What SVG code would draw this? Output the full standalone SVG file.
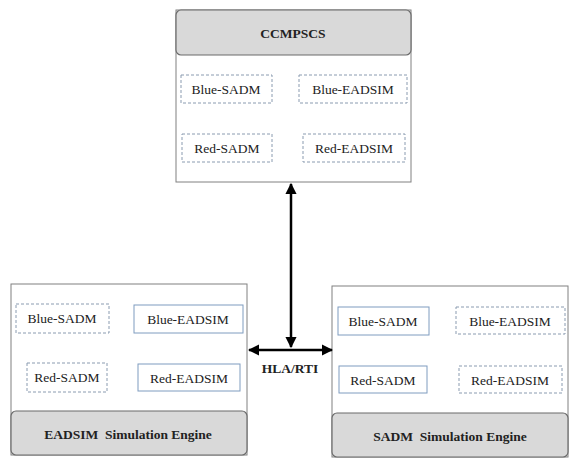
<svg xmlns="http://www.w3.org/2000/svg" width="588" height="472" viewBox="0 0 588 472">
<style>
.outer{fill:#fff;stroke:#808080;stroke-width:1}
.head{fill:#d9d9d9;stroke:#6b6b6b;stroke-width:1.2}
.dash{fill:#fff;stroke:#8a9bb0;stroke-width:1;stroke-dasharray:3,2}
.solid{fill:#fff;stroke:#7f9cbf;stroke-width:1}
text{font-family:'Liberation Serif','Times New Roman','DejaVu Serif',serif;font-size:13.5px;fill:#222;text-anchor:middle;dominant-baseline:central}
.b{font-weight:bold}
.arr{stroke:#000;stroke-width:2.5;fill:none;marker-start:url(#ah);marker-end:url(#ah)}
</style>
<defs>
<marker id="ah" viewBox="0 0 10 10" refX="9" refY="5" markerWidth="4.5" markerHeight="4.5" orient="auto-start-reverse">
<path d="M0,0 L10,5 L0,10 z" fill="#000"/>
</marker>
</defs>
<g id="ccmpscs">
<rect class="outer" x="176" y="10" width="235" height="172"/>
<rect class="head" x="176" y="10" width="235" height="45" rx="5"/>
<text class="b" x="293" y="33">CCMPSCS</text>
<rect class="dash" x="181" y="75" width="91" height="28"/>
<text x="226" y="89">Blue-SADM</text>
<rect class="dash" x="299" y="75" width="108" height="28"/>
<text x="353" y="89">Blue-EADSIM</text>
<rect class="dash" x="182" y="134" width="90" height="28"/>
<text x="227" y="148">Red-SADM</text>
<rect class="dash" x="303" y="134" width="102" height="28"/>
<text x="354" y="148">Red-EADSIM</text>
</g>
<g id="eadsim">
<rect class="outer" x="11" y="284" width="236" height="171"/>
<rect class="head" x="11" y="411" width="236" height="44" rx="5"/>
<text class="b" x="128" y="434" xml:space="preserve">EADSIM  Simulation Engine</text>
<rect class="dash" x="16" y="304" width="93" height="29"/>
<text x="62" y="318">Blue-SADM</text>
<rect class="solid" x="134" y="305" width="109" height="28"/>
<text x="188" y="319">Blue-EADSIM</text>
<rect class="dash" x="27" y="363" width="80" height="29"/>
<text x="67" y="377">Red-SADM</text>
<rect class="solid" x="138" y="364" width="102" height="27"/>
<text x="189" y="378">Red-EADSIM</text>
</g>
<g id="sadm">
<rect class="outer" x="332" y="286" width="236" height="171"/>
<rect class="head" x="332" y="413" width="236" height="44" rx="5"/>
<text class="b" x="450" y="436" xml:space="preserve">SADM  Simulation Engine</text>
<rect class="solid" x="338" y="307" width="91" height="28"/>
<text x="383" y="321">Blue-SADM</text>
<rect class="dash" x="456" y="307" width="109" height="27"/>
<text x="510" y="321">Blue-EADSIM</text>
<rect class="solid" x="339" y="366" width="88" height="27"/>
<text x="383" y="380">Red-SADM</text>
<rect class="dash" x="459" y="366" width="103" height="27"/>
<text x="510" y="380">Red-EADSIM</text>
</g>
<g id="connectors">
<line class="arr" x1="291" y1="184" x2="291" y2="347"/>
<line class="arr" x1="249" y1="350" x2="332" y2="350"/>
<text class="b" x="290" y="368">HLA/RTI</text>
</g>
</svg>
